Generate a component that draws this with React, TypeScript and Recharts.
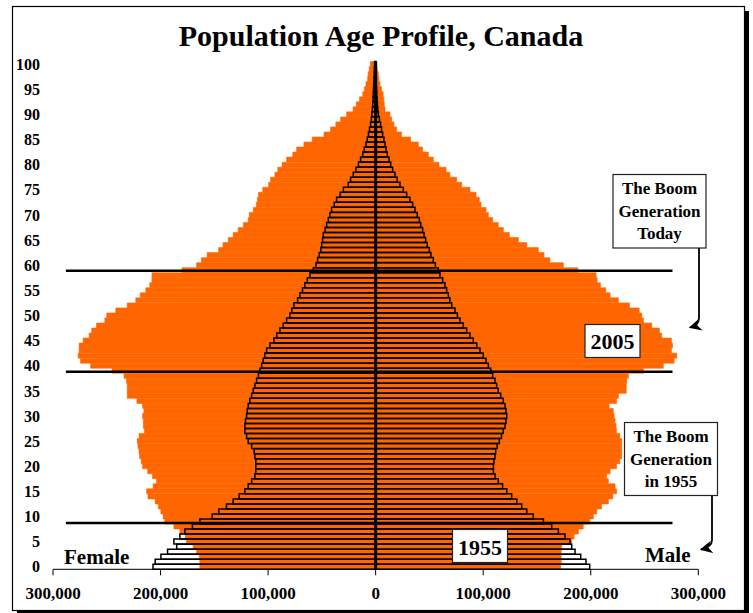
import React from "react";
import { BarChart, Bar, XAxis, YAxis, ReferenceLine } from "recharts";

// single years of age, 0 .. 100
const ages = Array.from({ length: 101 }, (_, i) => i);

// thousands of persons, index = age
const female2005 = [
  163.5, 163.5, 164, 166.5, 169.7, 176, 177, 182, 187.6, 196,
  197.6, 199.7, 202, 205, 211.7, 213, 206.9, 203.8, 207.5, 212,
  216.7, 218, 219.5, 220, 221, 221.7, 220, 215, 216, 216,
  216.7, 215.5, 216.7, 222, 231, 231, 231, 231.7, 234, 245,
  265, 274.4, 276.6, 275.7, 275.7, 272, 266.4, 264, 259.5, 251.8,
  250, 241.6, 231, 223, 218.8, 213.7, 210, 208, 208, 180,
  166.5, 162, 156.7, 146, 142, 137, 132.5, 127.8, 123, 118.5,
  117.5, 113.8, 111, 110, 109, 105, 99.5, 97.7, 93.7, 91,
  87, 82.8, 77, 73.5, 66.7, 59, 48, 42, 37, 32.6,
  27, 21, 18, 15, 12, 10.5, 9, 7.5, 7, 6,
  5,
];

const male2005 = [
  172, 172.5, 172.5, 172.5, 173, 182.3, 184.5, 188.5, 193, 199,
  202.4, 205.6, 210, 216.4, 220.5, 224, 222.6, 216.4, 214.8, 218,
  224, 227, 228.8, 228.8, 228.8, 228.8, 227, 224, 223.5, 222.6,
  221.7, 221, 217, 224, 225.7, 233, 233, 233.5, 235, 249,
  267.5, 277.5, 280, 275, 276, 275, 266, 263.8, 256.7, 249,
  247.4, 245, 236, 225.7, 218, 214, 209, 206, 205, 188,
  174.5, 162, 156.6, 151.3, 140.5, 132.7, 124.3, 118.7, 114, 108.8,
  104.8, 102.6, 98, 96.4, 93.3, 87.7, 80, 75.3, 69, 65.4,
  58.9, 53.6, 49, 43.7, 39.7, 32.5, 24, 19.5, 17, 14.9,
  13.3, 8.7, 8, 7.5, 7, 5.5, 4, 3, 2.5, 1.5,
  1,
];

const female1955 = [
  207, 205, 199.7, 193.5, 185, 187.6, 182, 177.4, 170.4, 163.4,
  152, 145.8, 138.7, 132.5, 126.9, 121.6, 118.5, 115.3, 112.3, 111.4,
  111.4, 111.4, 112.3, 113, 115.3, 118.5, 120, 121.6, 121.6, 121,
  120, 119.4, 118.5, 117, 115.3, 113.8, 112.3, 110.7, 109, 107.6,
  106, 104.6, 103, 101.4, 98.3, 94.6, 92, 89, 86, 82.8,
  79.7, 77.9, 76, 72.6, 70.4, 68, 65.8, 63.6, 61, 58,
  55.5, 54, 52.5, 51, 50.2, 49.3, 48.7, 47, 45.6, 44,
  42.5, 41, 38.5, 36.3, 33, 30, 25.5, 23.3, 20.8, 18.3,
  16, 14, 12, 10.6, 9, 7.8, 6.7, 5.7, 4.7, 4,
  3.5, 3, 2.7, 2.4, 2.2, 2, 1.8, 1.6, 1.4, 1.2,
  1,
];

const male1955 = [
  199, 195.6, 190.7, 185.4, 182.3, 180.7, 176, 169.9, 163.7, 156,
  146.6, 140.5, 135.8, 131.2, 126.5, 121.9, 118, 114, 111, 109.5,
  109.5, 110, 111, 111.6, 113, 115, 117, 118.7, 120.3, 121.2,
  121.9, 121.2, 120.3, 118.7, 116.3, 114, 112.5, 111, 108.8, 107,
  104.8, 102.6, 100, 97, 94, 90.8, 87.7, 84.6, 81.5, 78.4,
  76, 73.8, 70.7, 69, 67.6, 66, 64.5, 62.3, 59.8, 58.3,
  55.5, 53.6, 51.4, 49.9, 48, 46.5, 45, 43.7, 41.9, 40.6,
  38.7, 36.6, 34.4, 31.9, 28.8, 25.7, 22.6, 20, 18, 15.8,
  14, 12.4, 10.8, 9.7, 8.7, 7.7, 6.5, 5.5, 4.6, 3.5,
  2.5, 2, 1.6, 1.3, 1, 0.8, 0.6, 0.5, 0.4, 0.3,
  0.2,
];

const xTicks = [-300000, -200000, -100000, 0, 100000, 200000, 300000];

// ages where the boom generation bands are cut
const boomLines = [58.8, 38.9, 9.1];
const boomLineFrom = -288000;
const boomLineTo = 276000;

const ORANGE = "#FF6600";
const SERIF = '"Liberation Serif", "Times New Roman", serif';

const data = ages.map((age, i) => ({
  age: String(age),
  f2005: -female2005[i] * 1000,
  m2005: male2005[i] * 1000,
  f1955: -female1955[i] * 1000,
  m1955: male1955[i] * 1000,
}));

const fmt = (v: number) => Math.abs(v).toLocaleString("en-US");

function Box({ x, y, w, h, lines, size, first, step }: any) {
  return (
    <g>
      <rect x={x} y={y} width={w} height={h} fill="#fff" stroke="#222" strokeWidth={1.2} />
      {lines.map((t: string, i: number) => (
        <text
          key={t}
          x={x + w / 2}
          y={first + i * step}
          textAnchor="middle"
          fontFamily={SERIF}
          fontWeight="bold"
          fontSize={size}
          fill="#000"
        >
          {t}
        </text>
      ))}
    </g>
  );
}

export default function App() {
  return (
    <div style={{ position: "absolute", left: 0, top: 0, width: 753, height: 613, background: "#fff" }}>
      <svg width={753} height={613} style={{ position: "absolute", left: 0, top: 0 }}>
        <rect x={17} y={11} width={732} height={604} fill="#000" />
        <rect x={12.5} y={6.5} width={732} height={604} fill="#fff" stroke="#000" strokeWidth={1.2} />
      </svg>
      <div style={{ position: "absolute", left: 0, top: 0 }}>
        <BarChart
          width={753}
          height={613}
          data={data}
          layout="vertical"
          stackOffset="sign"
          barCategoryGap={0}
          barGap="-100%"
          margin={{ top: 61.6, right: 54.7, bottom: 13.7, left: 13 }}
        >
          <XAxis
            type="number"
            domain={[-300000, 300000]}
            ticks={xTicks}
            interval={0}
            allowDataOverflow
            tickFormatter={fmt}
            height={30}
            axisLine={{ stroke: "#000" }}
            tickLine={{ stroke: "#000" }}
            tickSize={6}
            tickMargin={12}
            tick={{ fill: "#000", fontSize: 17, fontWeight: "bold", fontFamily: SERIF }}
          />
          <YAxis
            type="category"
            dataKey="age"
            reversed
            interval={4}
            width={40}
            axisLine={false}
            tickLine={false}
            tickSize={0}
            tickMargin={13}
            tick={{ fill: "#000", fontSize: 16, fontWeight: "bold", fontFamily: SERIF }}
          />
          <YAxis yAxisId="num" type="number" domain={[-0.5, 100.5]} reversed allowDataOverflow hide />
          <Bar dataKey="f2005" stackId="y2005" fill={ORANGE} stroke={ORANGE} strokeWidth={0.6} isAnimationActive={false} />
          <Bar dataKey="m2005" stackId="y2005" fill={ORANGE} stroke={ORANGE} strokeWidth={0.6} isAnimationActive={false} />
          <Bar dataKey="f1955" stackId="y1955" fill="none" stroke="#000" strokeWidth={1.5} isAnimationActive={false} />
          <Bar dataKey="m1955" stackId="y1955" fill="none" stroke="#000" strokeWidth={1.5} isAnimationActive={false} />
          <ReferenceLine x={0} stroke="#000" strokeWidth={3} />
          {boomLines.map((a) => (
            <ReferenceLine
              key={a}
              yAxisId="num"
              segment={[
                { x: boomLineFrom, y: a },
                { x: boomLineTo, y: a },
              ]}
              stroke="#000"
              strokeWidth={2.5}
            />
          ))}
        </BarChart>
      </div>
      <svg width={753} height={613} style={{ position: "absolute", left: 0, top: 0, pointerEvents: "none" }}>
        <defs>
          <marker id="arr" viewBox="0 0 10 10" refX={9} refY={5} markerWidth={7} markerHeight={7} orient="auto">
            <path d="M0,0 L10,5 L0,10 L3,5 z" fill="#000" />
          </marker>
        </defs>
        <text x={381} y={46} textAnchor="middle" fontFamily={SERIF} fontWeight="bold" fontSize={30} fill="#000">
          Population Age Profile, Canada
        </text>
        <text x={64} y={564} fontFamily={SERIF} fontWeight="bold" fontSize={21} fill="#000">Female</text>
        <text x={645} y={562} fontFamily={SERIF} fontWeight="bold" fontSize={21} fill="#000">Male</text>
        <Box x={613} y={174.5} w={93} h={73.5} lines={["The Boom", "Generation", "Today"]} size={17} first={194} step={22.7} />
        <Box x={624.5} y={422.5} w={93} h={73} lines={["The Boom", "Generation", "in 1955"]} size={17} first={442} step={22.5} />
        <Box x={585} y={324.5} w={55} h={33} lines={["2005"]} size={22} first={348.5} step={0} />
        <Box x={452.5} y={529.5} w={55} h={33} lines={["1955"]} size={22} first={554.5} step={0} />
        <path d="M699,248 L699,318 Q699,325 690,327.5" fill="none" stroke="#000" strokeWidth={1.8} markerEnd="url(#arr)" />
        <path d="M712,496 L712,540 Q712,547 701,549.5" fill="none" stroke="#000" strokeWidth={1.8} markerEnd="url(#arr)" />
      </svg>
    </div>
  );
}
